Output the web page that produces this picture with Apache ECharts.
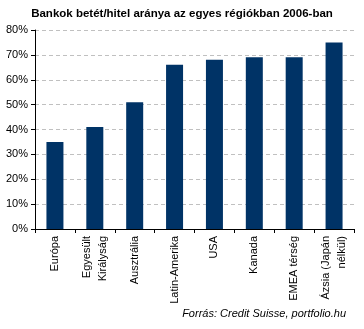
<!DOCTYPE html>
<html><head><meta charset="utf-8">
<script src="https://cdn.jsdelivr.net/npm/echarts@6/dist/echarts.min.js"></script>
<style>html,body{margin:0;padding:0;background:#fff}#c{width:364px;height:329px}</style>
</head><body><div id="c"></div>
<script>
var categories = ["Európa", "Egyesült\nKirályság", "Ausztrália", "Latin-Amerika", "USA", "Kanada", "EMEA térség", "Ázsia (Japán\nnélkül)"];
var values = [35, 41, 51, 66, 68, 69, 69, 75];
var titleText = "Bankok betét/hitel aránya az egyes régiókban 2006-ban";
var sourceText = "Forrás: Credit Suisse, portfolio.hu";

var chart = echarts.init(document.getElementById('c'), null, {renderer: 'canvas'});
chart.setOption({
  animation: false,
  backgroundColor: '#fff',
  title: [{
    text: titleText, left: 'center', top: 3,
    textStyle: {fontFamily: 'Liberation Sans, Arial', fontSize: 11.5, fontWeight: 'bold', color: '#000'}
  }, {
    text: sourceText, right: 13, bottom: 5,
    textStyle: {fontFamily: 'Liberation Sans, Arial', fontSize: 11, fontStyle: 'italic', fontWeight: 'normal', color: '#000'}
  }],
  grid: {left: 35, right: 10, top: 30, bottom: 100},
  xAxis: {
    type: 'category', data: categories,
    axisLine: {lineStyle: {color: '#000', width: 1}},
    axisTick: {show: true, length: 4, lineStyle: {color: '#000'}},
    axisLabel: {rotate: 90, interval: 0, margin: 7, fontFamily: 'Liberation Sans, Arial', fontSize: 11, color: '#000', lineHeight: 16}
  },
  yAxis: {
    type: 'value', min: 0, max: 80, interval: 10,
    axisLine: {show: true, lineStyle: {color: '#000', width: 1}},
    axisTick: {show: true, length: 4, lineStyle: {color: '#000'}},
    axisLabel: {formatter: '{value}%', margin: 7, fontFamily: 'Liberation Sans, Arial', fontSize: 11, color: '#000'},
    splitLine: {show: true, lineStyle: {color: '#c0c0c0', type: [4, 3]}}
  },
  series: [{
    type: 'bar', data: values, barWidth: 17,
    itemStyle: {color: '#003366'}
  }]
});
</script></body></html>
